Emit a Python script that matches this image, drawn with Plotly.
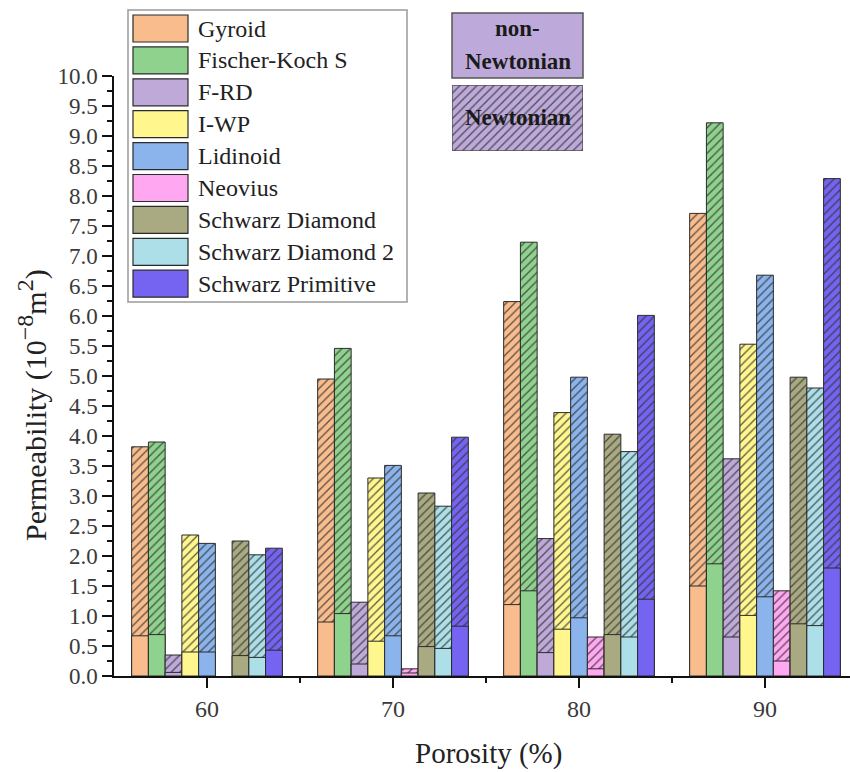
import plotly.graph_objects as go

# Porosity levels (%)
porosity = [60, 70, 80, 90]

# TPMS structures and their fill colours
structures = ["Gyroid", "Fischer-Koch S", "F-RD", "I-WP", "Lidinoid", "Neovius",
              "Schwarz Diamond", "Schwarz Diamond 2", "Schwarz Primitive"]
colors = ["#F9BD8D", "#8FD28E", "#BEA9D9", "#FFF68E", "#8BB4EC", "#FFA7F1",
          "#A9A982", "#ACDFE8", "#7464F1"]

# Newtonian permeability (1e-8 m^2) per structure, over porosity
newt_gyroid = [3.82, 4.95, 6.24, 7.71]
newt_fks = [3.90, 5.46, 7.23, 9.22]
newt_frd = [0.35, 1.23, 2.29, 3.62]
newt_iwp = [2.35, 3.30, 4.39, 5.53]
newt_lidinoid = [2.21, 3.51, 4.98, 6.68]
newt_neovius = [None, 0.12, 0.65, 1.42]
newt_sd = [2.25, 3.05, 4.03, 4.98]
newt_sd2 = [2.02, 2.83, 3.74, 4.80]
newt_sp = [2.13, 3.98, 6.01, 8.29]

# non-Newtonian permeability (1e-8 m^2) per structure, over porosity
nonnewt_gyroid = [0.67, 0.90, 1.19, 1.50]
nonnewt_fks = [0.69, 1.04, 1.42, 1.87]
nonnewt_frd = [0.06, 0.20, 0.39, 0.65]
nonnewt_iwp = [0.40, 0.58, 0.78, 1.01]
nonnewt_lidinoid = [0.40, 0.67, 0.97, 1.32]
nonnewt_neovius = [None, 0.05, 0.12, 0.25]
nonnewt_sd = [0.34, 0.49, 0.69, 0.87]
nonnewt_sd2 = [0.31, 0.46, 0.65, 0.84]
nonnewt_sp = [0.43, 0.83, 1.28, 1.80]

newtonian = [newt_gyroid, newt_fks, newt_frd, newt_iwp, newt_lidinoid,
             newt_neovius, newt_sd, newt_sd2, newt_sp]
non_newtonian = [nonnewt_gyroid, nonnewt_fks, nonnewt_frd, nonnewt_iwp,
                 nonnewt_lidinoid, nonnewt_neovius, nonnewt_sd, nonnewt_sd2,
                 nonnewt_sp]

FONT = "Liberation Serif"
EDGE = "#2b2b2b"
HATCH = dict(shape="/", fgcolor="#333333", fgopacity=0.8, size=6, solidity=0.22)

# plot-area geometry in pixels (used for placing the hand-built legends)
W, H = 850, 772
L, R, T, B = 114, 0, 76, 96
PW, PH = W - L - R, H - T - B


def fx(px):
    return (px - L) / PW


def fy(py):
    return (H - B - py) / PH


fig = go.Figure()

for i, (name, col) in enumerate(zip(structures, colors)):
    # Newtonian value: full-height hatched bar
    fig.add_trace(go.Bar(
        x=porosity, y=newtonian[i], name=name + " (Newtonian)",
        offsetgroup=str(i), showlegend=False,
        marker=dict(color=col, line=dict(color=EDGE, width=1),
                    pattern=dict(bgcolor=col, **HATCH)),
    ))
    # non-Newtonian value: solid bar drawn over the lower part
    fig.add_trace(go.Bar(
        x=porosity, y=non_newtonian[i], name=name + " (non-Newtonian)",
        offsetgroup=str(i), showlegend=False,
        marker=dict(color=col, line=dict(color=EDGE, width=1)),
    ))

# hatched key box for the Newtonian bars
fig.add_trace(go.Bar(
    x=[0], y=[1], width=[1], xaxis="x2", yaxis="y2", showlegend=False,
    hoverinfo="skip",
    marker=dict(color="#BDAADA", line=dict(color="#555555", width=1.5),
                pattern=dict(bgcolor="#BDAADA", **HATCH)),
))

shapes = []
annotations = []

# structure legend
shapes.append(dict(type="rect", xref="paper", yref="paper",
                   x0=fx(128), x1=fx(407), y0=fy(10), y1=fy(302),
                   line=dict(color="#9a9a9a", width=1.5), fillcolor="white",
                   layer="above"))
for i, (name, col) in enumerate(zip(structures, colors)):
    top = 15 + i * 31.9
    shapes.append(dict(type="rect", xref="paper", yref="paper",
                       x0=fx(133), x1=fx(188), y0=fy(top), y1=fy(top + 27),
                       line=dict(color=EDGE, width=1.2), fillcolor=col,
                       layer="above"))
    annotations.append(dict(text=name, xref="paper", yref="paper",
                            x=fx(196), y=fy(top + 13.5), xanchor="left",
                            yanchor="middle", showarrow=False,
                            font=dict(family=FONT, size=24, color="#222222")))

# fluid-type key
shapes.append(dict(type="rect", xref="paper", yref="paper",
                   x0=fx(452), x1=fx(583), y0=fy(13), y1=fy(78),
                   line=dict(color="#555555", width=1.5), fillcolor="#BDAADA",
                   layer="above"))
for txt, ypx in [("<b>non-</b>", 29), ("<b>Newtonian</b>", 61),
                 ("<b>Newtonian</b>", 118)]:
    annotations.append(dict(text=txt, xref="paper", yref="paper",
                            x=fx(517.5), y=fy(ypx), xanchor="center",
                            yanchor="middle", showarrow=False,
                            font=dict(family=FONT, size=23, color="#1a1a1a")))

# axis titles
annotations.append(dict(text="Porosity (%)", xref="paper", yref="paper",
                        x=fx(488), y=fy(753), xanchor="center",
                        yanchor="middle", showarrow=False,
                        font=dict(family=FONT, size=29, color="#222222")))
annotations.append(dict(
    text=("Permeability (10<sup><span style=\"font-size:24px\">\u22128</span></sup>"
          "m<sup><span style=\"font-size:24px\">2</span></sup>)"),
    xref="paper", yref="paper", x=fx(32), y=fy(405),
    xanchor="center", yanchor="middle", textangle=-90, showarrow=False,
    font=dict(family=FONT, size=30, color="#222222")))

fig.update_layout(
    width=W, height=H,
    margin=dict(l=L, r=R, t=T, b=B, pad=0),
    paper_bgcolor="white", plot_bgcolor="white",
    barmode="group", bargap=0.19, bargroupgap=0,
    shapes=shapes, annotations=annotations,
    font=dict(family=FONT, color="#222222"),
    xaxis=dict(range=[55, 55 + PW / 18.6], tickvals=porosity,
               ticks="outside", ticklen=10, tickwidth=1.5, tickcolor="#111",
               showline=True, linecolor="#111", linewidth=1.5,
               showgrid=False, zeroline=False,
               tickfont=dict(family=FONT, size=24, color="#3a3a3a"),
               minor=dict(tickvals=[65, 75, 85], ticks="outside", ticklen=5,
                          tickwidth=1.5, tickcolor="#111", showgrid=False)),
    yaxis=dict(range=[0, 10], dtick=0.5, tick0=0, tickformat=".1f",
               ticks="outside", ticklen=10, tickwidth=1.5, tickcolor="#111",
               showline=True, linecolor="#111", linewidth=1.5,
               showgrid=False, zeroline=False,
               tickfont=dict(family=FONT, size=23, color="#3a3a3a"),
               minor=dict(dtick=0.25, ticks="outside", ticklen=5,
                          tickwidth=1.5, tickcolor="#111", showgrid=False)),
    xaxis2=dict(domain=[fx(452), fx(583)], range=[-0.5, 0.5], anchor="y2",
                visible=False, fixedrange=True),
    yaxis2=dict(domain=[fy(151), fy(85)], range=[0, 1], anchor="x2",
                visible=False, fixedrange=True),
)

fig.write_html("out.html")
